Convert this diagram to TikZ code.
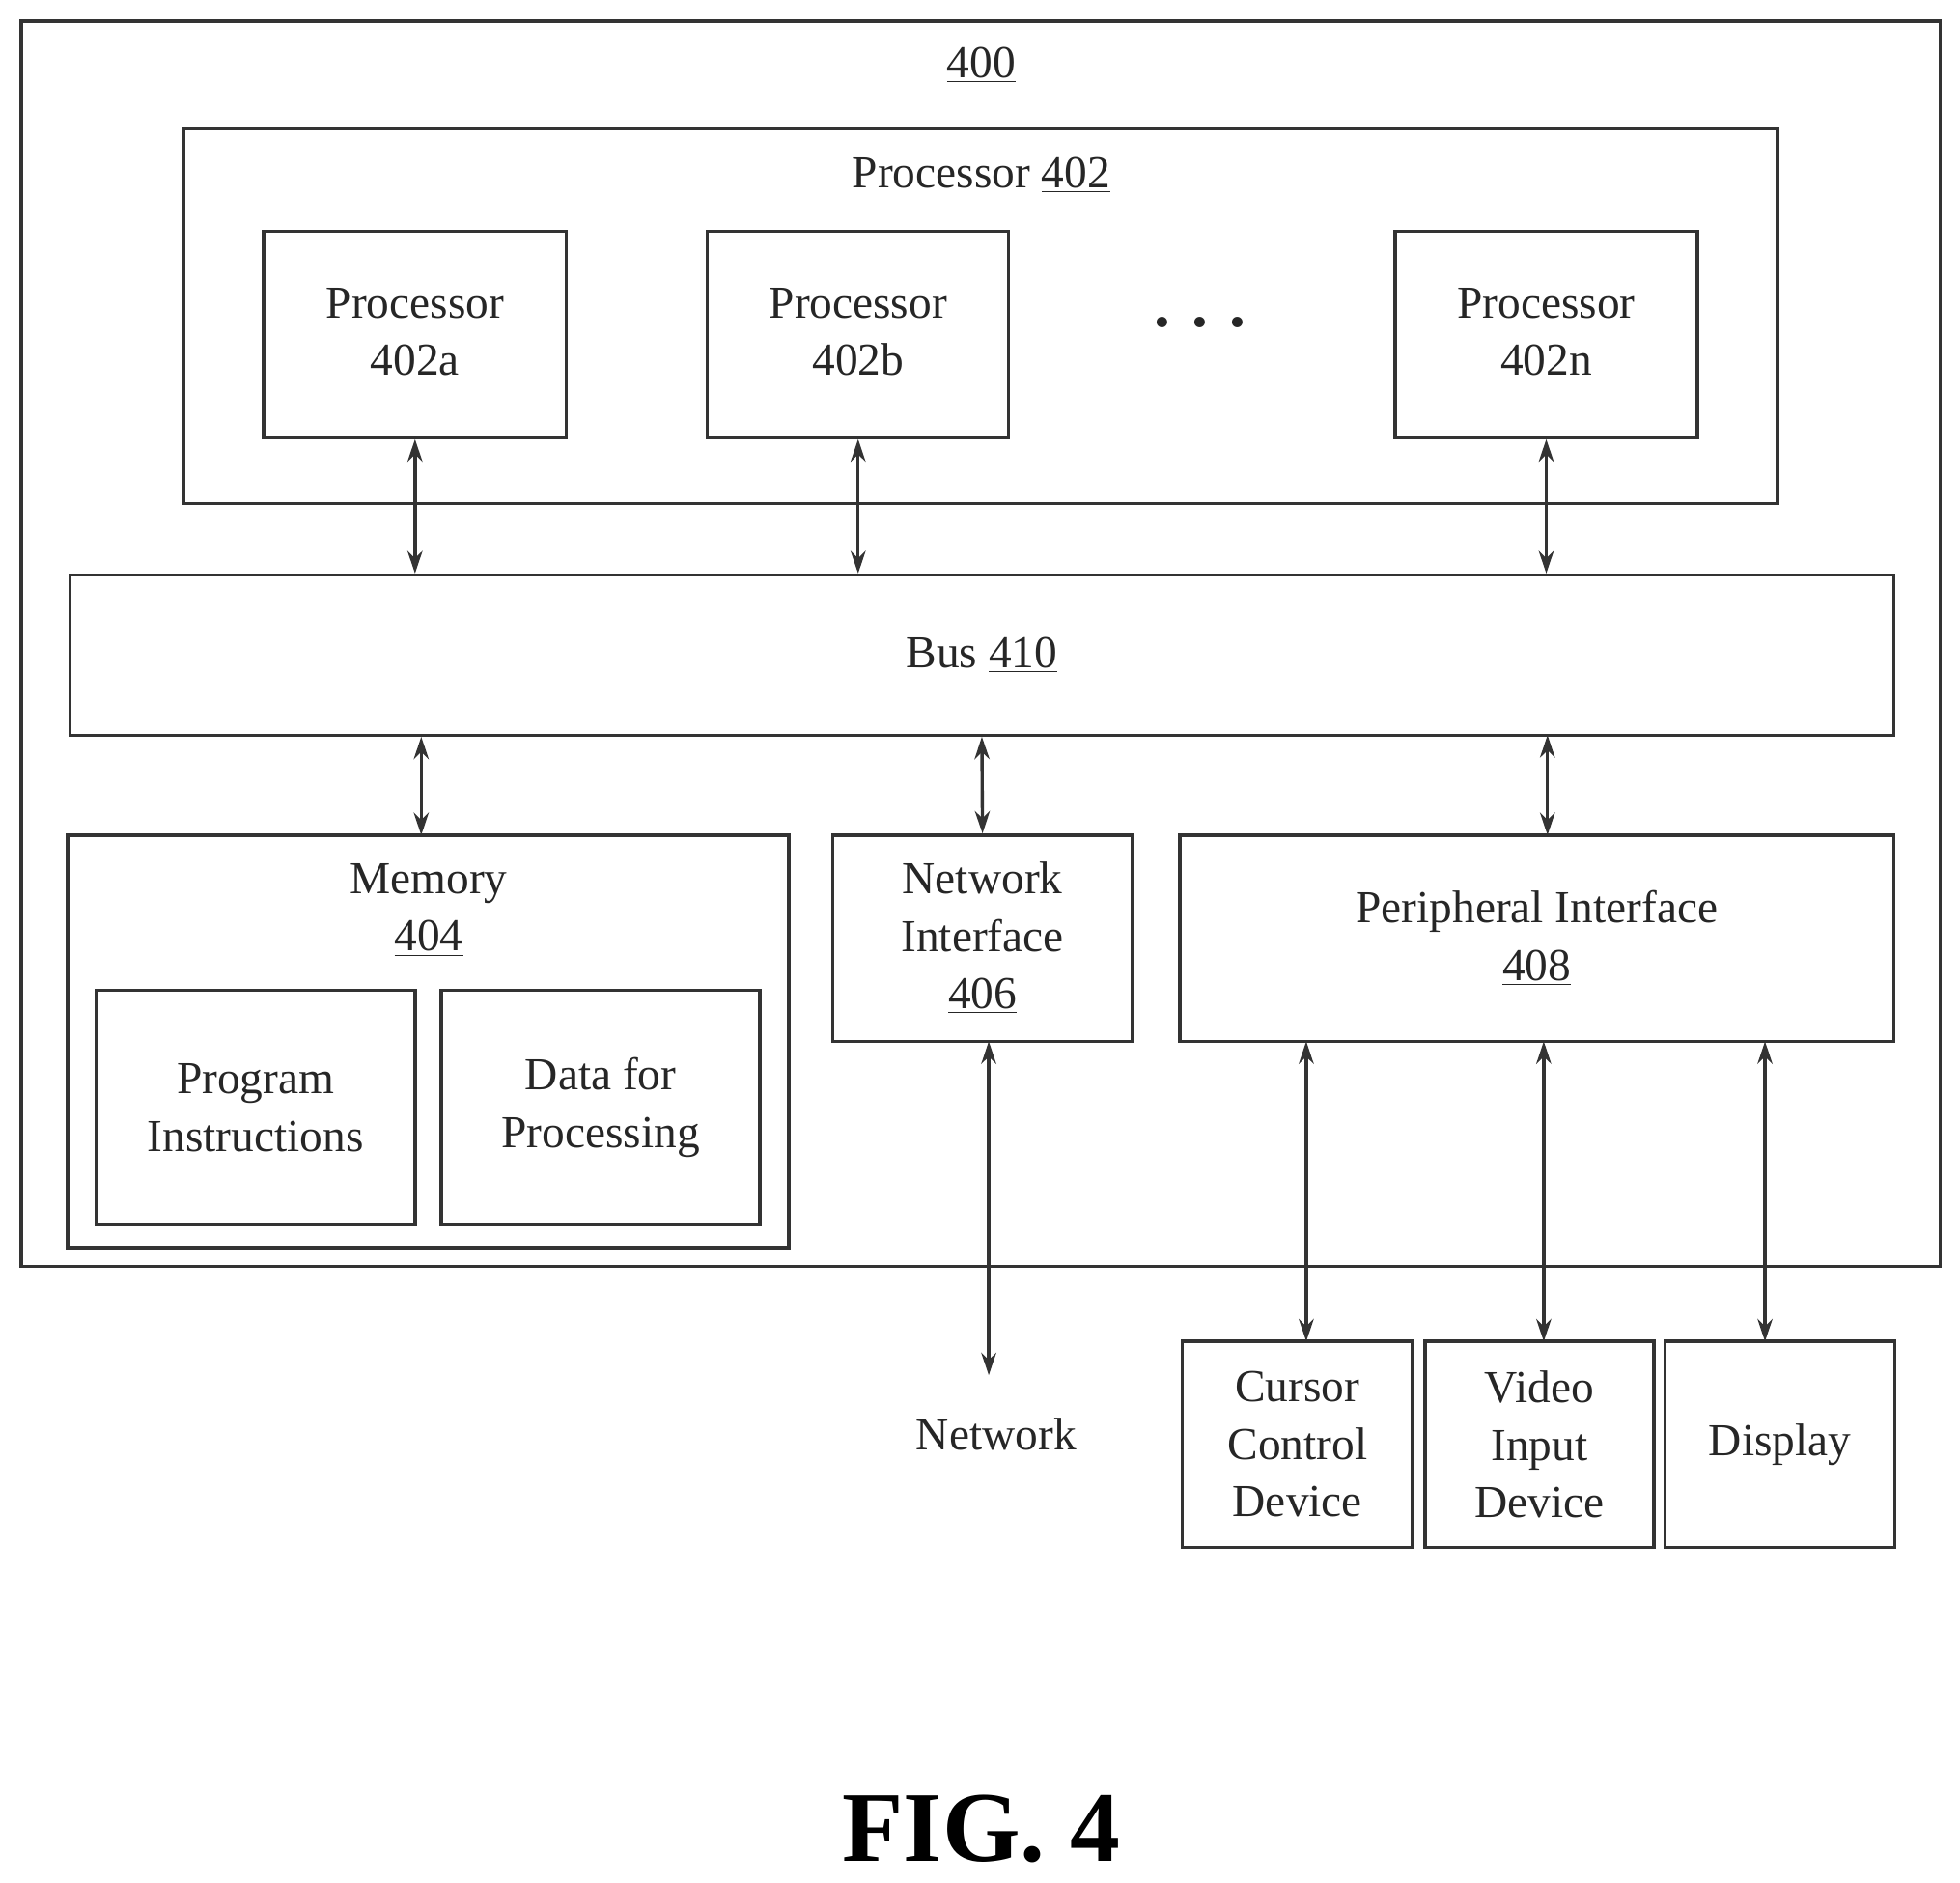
\documentclass[tikz,border=0pt]{standalone}
\usepackage{fontspec}
\setmainfont{Liberation Serif}
\usetikzlibrary{arrows.meta}
\begin{document}
\begin{tikzpicture}[x=0.5pt,y=-0.5pt,
  box/.style={draw=black!80,line width=1.3pt},
  lbl/.style={font=\fontsize{18.3pt}{23pt}\selectfont,align=center,text=black!85},
  arr/.style={{Stealth[length=9pt,width=6pt]}-{Stealth[length=9pt,width=6pt]},line width=1.3pt,draw=black!80}]
\useasboundingbox (0,0) rectangle (1568,1506);
\draw[box] (17,17) rectangle (1552,1013);
\node[lbl] (t400) at (785,52) {\underline{400}};
\draw[box] (147,103) rectangle (1422,403);
\node[lbl] (t402) at (785,140) {Processor \underline{402}};
\node[box,minimum width=121pt,minimum height=82.5pt,lbl] (pa) at (332,267.5) {Processor\\\underline{402a}};
\node[box,minimum width=120.5pt,minimum height=82.5pt,lbl] (pb) at (686.5,267.5) {Processor\\\underline{402b}};
\node[box,minimum width=121pt,minimum height=82.5pt,lbl] (pn) at (1237,267.5) {Processor\\\underline{402n}};
\node[lbl,font=\fontsize{26pt}{26pt}\selectfont] (dots) at (960,258) {\textbf{.\,\,.\,\,.}};
\node[box,minimum width=729.5pt,minimum height=64pt,lbl] (bus) at (785.5,524) {Bus \underline{410}};
\draw[box] (54,668) rectangle (631,998);
\node[lbl] (mem) at (343,728) {Memory\\\underline{404}};
\node[box,minimum width=127.5pt,minimum height=94pt,lbl] (prog) at (204.5,886) {Program\\Instructions};
\node[box,minimum width=127.5pt,minimum height=94pt,lbl] (data) at (480.5,886) {Data for\\Processing};
\node[box,minimum width=120pt,minimum height=82.5pt,lbl] (ni) at (786,750.5) {Network\\Interface\\\underline{406}};
\node[box,minimum width=285.5pt,minimum height=82.5pt,lbl] (pi) at (1229.5,750.5) {Peripheral Interface\\\underline{408}};
\coordinate (memtop) at (337,668);
\coordinate (netend) at (791,1100);
\node[lbl] (net) at (797,1147) {Network};
\node[box,minimum width=92pt,minimum height=82.5pt,lbl] (cur) at (1038,1155.5) {Cursor\\Control\\Device};
\node[box,minimum width=91.5pt,minimum height=82.5pt,lbl] (vid) at (1231.5,1155.5) {Video\\Input\\Device};
\node[box,minimum width=92pt,minimum height=82.5pt,lbl] (dis) at (1424,1155.5) {Display};
\node[font=\fontsize{40pt}{44pt}\selectfont\bfseries] (fig) at (785,1463) {FIG. 4};
\draw[arr] (pa.south) -- (pa.south |- bus.north);
\draw[arr] (pb.south) -- (pb.south |- bus.north);
\draw[arr] (pn.south) -- (pn.south |- bus.north);
\draw[arr] (memtop |- bus.south) -- (memtop);
\draw[arr] (bus.south) -- (ni.north);
\draw[arr] (1238,588) -- (1238,668);
\draw[arr] (791,833) -- (netend);
\draw[arr] (1045,833) -- (1045,1073);
\draw[arr] (1235,833) -- (1235,1073);
\draw[arr] (1412,833) -- (1412,1073);
\end{tikzpicture}
\end{document}
